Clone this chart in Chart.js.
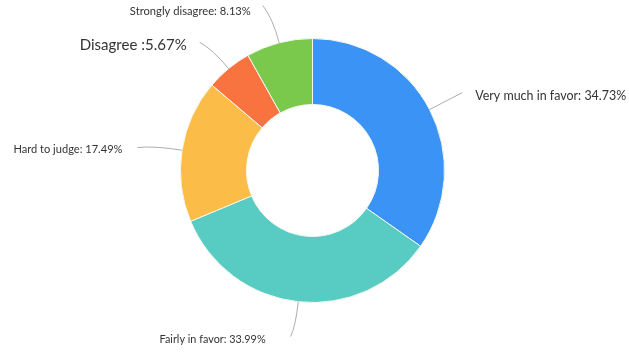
<!DOCTYPE html>
<html>
<head>
<meta charset="utf-8">
<script src="https://cdn.jsdelivr.net/npm/chart.js@4/dist/chart.umd.min.js"></script>
<style>
  html, body { margin: 0; padding: 0; background: #ffffff; }
  #wrap { width: 629px; height: 353px; }
</style>
</head>
<body>
<div id="wrap"><canvas id="c" width="629" height="353"></canvas></div>
<script>
// Survey answers, clockwise from 12 o'clock
const categories = ['Very much in favor', 'Fairly in favor', 'Hard to judge', 'Disagree', 'Strongly disagree'];
const shares = [34.73, 33.99, 17.49, 5.67, 8.13];
const separators = [': ', ': ', ': ', ' :', ': '];
const sliceColors = ['#3b93f6', '#58cbc2', '#fbbd48', '#f8733f', '#7ac94c'];

// Callout styling: radial leg, bend offset, text gap, font size, squeezed text width, text baseline nudge
const callouts = [
  { leg: 30, dx: 6,   dy: -3,  gap: 13, size: 13, width: 151, ty: 3 },
  { leg: 25, dx: -5,  dy: 10,  gap: 25, size: 12, width: 106, ty: 3 },
  { leg: 30, dx: -15, dy: 2,   gap: 15, size: 12, width: 109, ty: 2 },
  { leg: 25, dx: -13, dy: -7,  gap: 13, size: 16, width: 107, ty: 3 },
  { leg: 25, dx: -10, dy: -13, gap: 12, size: 12, width: 121, ty: 6 }
];

const calloutPlugin = {
  id: 'callouts',
  afterDatasetsDraw(chart) {
    const ctx = chart.ctx;
    const meta = chart.getDatasetMeta(0);
    meta.data.forEach((arc, i) => {
      const p = arc.getProps(['x', 'y', 'startAngle', 'endAngle', 'outerRadius'], true);
      const mid = (p.startAngle + p.endAngle) / 2;
      const c = Math.cos(mid), s = Math.sin(mid);
      const x0 = p.x + c * p.outerRadius, y0 = p.y + s * p.outerRadius;
      const x1 = x0 + c * callouts[i].leg, y1 = y0 + s * callouts[i].leg;
      const x2 = x1 + callouts[i].dx, y2 = y1 + callouts[i].dy;

      ctx.save();
      ctx.strokeStyle = '#a9aeb0';
      ctx.lineWidth = 1;
      ctx.beginPath();
      ctx.moveTo(x0, y0);
      ctx.quadraticCurveTo(x1, y1, x2, y2);
      ctx.stroke();

      const text = categories[i] + separators[i] + shares[i].toFixed(2) + '%';
      const rightSide = x2 >= p.x;
      ctx.font = callouts[i].size + 'px Lato';
      ctx.fillStyle = '#333333';
      ctx.textBaseline = 'middle';
      const w = ctx.measureText(text).width;
      const sx = callouts[i].width / w;
      const tx = rightSide ? x2 + callouts[i].gap : x2 - callouts[i].gap;
      ctx.translate(tx, y2 + callouts[i].ty);
      ctx.scale(sx, 1);
      ctx.textAlign = rightSide ? 'left' : 'right';
      ctx.fillText(text, 0, 0);
      ctx.restore();
    });
  }
};

new Chart(document.getElementById('c'), {
  type: 'doughnut',
  data: {
    labels: categories,
    datasets: [{
      data: shares,
      backgroundColor: sliceColors,
      borderColor: '#f3f8ee',
      borderWidth: 1,
      hoverOffset: 0
    }]
  },
  options: {
    responsive: false,
    animation: false,
    cutout: '50%',
    layout: { padding: { top: 38, bottom: 50, left: 0, right: 4 } },
    plugins: {
      legend: { display: false },
      tooltip: { enabled: false }
    }
  },
  plugins: [calloutPlugin]
});
</script>
</body>
</html>
